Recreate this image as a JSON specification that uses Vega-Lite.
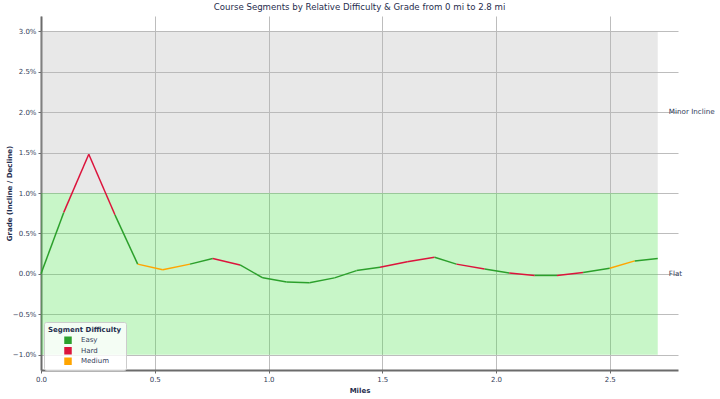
{
  "$schema": "https://vega.github.io/schema/vega-lite/v6.json",
  "width": 637,
  "height": 354,
  "autosize": {"type": "none"},
  "padding": {"left": 41, "top": 16, "right": 42, "bottom": 29},
  "title": {
    "text": "Course Segments by Relative Difficulty & Grade from 0 mi to 2.8 mi",
    "fontSize": 8.6,
    "fontWeight": "normal",
    "font": "DejaVu Sans",
    "color": "#1f2d4d",
    "anchor": "middle",
    "offset": 4
  },
  "config": {
    "view": {"stroke": null},
    "font": "DejaVu Sans",
    "axis": {
      "labelFont": "DejaVu Sans",
      "labelFontSize": 7,
      "labelColor": "#34405a",
      "titleFont": "DejaVu Sans",
      "titleFontSize": 7,
      "titleFontWeight": "bold",
      "titleColor": "#1f2d4d",
      "gridColor": "#bdbdbd",
      "gridWidth": 1,
      "gridOpacity": 1,
      "domainColor": "#6b6b6b",
      "domainWidth": 2,
      "tickColor": "#6b6b6b",
      "tickSize": 3,
      "labelPadding": 2,
      "labelFlush": false
    }
  },
  "datasets": {
    "zones": [
      {"zone": "Minor Incline", "x0": 0, "x1": 2.711, "lo": 1.0, "hi": 3.0, "mid": 2.0},
      {"zone": "Flat", "x0": 0, "x1": 2.711, "lo": -1.0, "hi": 1.0, "mid": 0.0}
    ],
    "segments": [
      {"m0": 0.0, "m1": 0.1, "g0": 0.0, "g1": 0.76, "difficulty": "Easy"},
      {"m0": 0.1, "m1": 0.21, "g0": 0.76, "g1": 1.48, "difficulty": "Hard"},
      {"m0": 0.21, "m1": 0.325, "g0": 1.48, "g1": 0.73, "difficulty": "Hard"},
      {"m0": 0.325, "m1": 0.425, "g0": 0.73, "g1": 0.12, "difficulty": "Easy"},
      {"m0": 0.425, "m1": 0.535, "g0": 0.12, "g1": 0.05, "difficulty": "Medium"},
      {"m0": 0.535, "m1": 0.655, "g0": 0.05, "g1": 0.12, "difficulty": "Medium"},
      {"m0": 0.655, "m1": 0.755, "g0": 0.12, "g1": 0.19, "difficulty": "Easy"},
      {"m0": 0.755, "m1": 0.875, "g0": 0.19, "g1": 0.11, "difficulty": "Hard"},
      {"m0": 0.875, "m1": 0.975, "g0": 0.11, "g1": -0.05, "difficulty": "Easy"},
      {"m0": 0.975, "m1": 1.08, "g0": -0.05, "g1": -0.1, "difficulty": "Easy"},
      {"m0": 1.08, "m1": 1.18, "g0": -0.1, "g1": -0.11, "difficulty": "Easy"},
      {"m0": 1.18, "m1": 1.29, "g0": -0.11, "g1": -0.05, "difficulty": "Easy"},
      {"m0": 1.29, "m1": 1.387, "g0": -0.05, "g1": 0.04, "difficulty": "Easy"},
      {"m0": 1.387, "m1": 1.49, "g0": 0.04, "g1": 0.08, "difficulty": "Easy"},
      {"m0": 1.49, "m1": 1.61, "g0": 0.08, "g1": 0.15, "difficulty": "Hard"},
      {"m0": 1.61, "m1": 1.73, "g0": 0.15, "g1": 0.205, "difficulty": "Hard"},
      {"m0": 1.73, "m1": 1.826, "g0": 0.205, "g1": 0.12, "difficulty": "Easy"},
      {"m0": 1.826, "m1": 1.95, "g0": 0.12, "g1": 0.06, "difficulty": "Hard"},
      {"m0": 1.95, "m1": 2.058, "g0": 0.06, "g1": 0.01, "difficulty": "Easy"},
      {"m0": 2.058, "m1": 2.17, "g0": 0.01, "g1": -0.02, "difficulty": "Hard"},
      {"m0": 2.17, "m1": 2.268, "g0": -0.02, "g1": -0.02, "difficulty": "Easy"},
      {"m0": 2.268, "m1": 2.383, "g0": -0.02, "g1": 0.015, "difficulty": "Hard"},
      {"m0": 2.383, "m1": 2.5, "g0": 0.015, "g1": 0.07, "difficulty": "Easy"},
      {"m0": 2.5, "m1": 2.61, "g0": 0.07, "g1": 0.16, "difficulty": "Medium"},
      {"m0": 2.61, "m1": 2.711, "g0": 0.16, "g1": 0.19, "difficulty": "Easy"}
    ]
  },
  "layer": [
    {
      "data": {"name": "zones"},
      "mark": {"type": "rect", "opacity": 0.3},
      "encoding": {
        "x": {
          "field": "x0",
          "type": "quantitative",
          "scale": {"domain": [0, 2.8], "nice": false, "zero": false},
          "axis": {
            "values": [0, 0.5, 1.0, 1.5, 2.0, 2.5],
            "format": ".1f",
            "title": "Miles",
            "grid": true,
            "titlePadding": 4
          }
        },
        "x2": {"field": "x1"},
        "y": {
          "field": "lo",
          "type": "quantitative",
          "scale": {"domain": [-1.19, 3.19], "nice": false, "zero": false},
          "axis": {
            "values": [-1.0, -0.5, 0.0, 0.5, 1.0, 1.5, 2.0, 2.5, 3.0],
            "labelExpr": "format(datum.value, '.1f') + '%'",
            "title": "Grade (Incline / Decline)",
            "grid": true,
            "titleX": -29,
            "titleBaseline": "bottom"
          }
        },
        "y2": {"field": "hi"},
        "color": {
          "field": "zone",
          "type": "nominal",
          "scale": {"domain": ["Minor Incline", "Flat"], "range": ["#b2b2b2", "#48e148"]},
          "legend": null
        }
      }
    },
    {
      "data": {"name": "zones"},
      "mark": {"type": "text", "align": "left", "baseline": "middle", "dx": 11, "fontSize": 7.2, "color": "#34405a", "font": "DejaVu Sans"},
      "encoding": {
        "x": {"field": "x1", "type": "quantitative"},
        "y": {"field": "mid", "type": "quantitative"},
        "text": {"field": "zone"}
      }
    },
    {
      "data": {"name": "segments"},
      "mark": {"type": "rule", "strokeWidth": 1.5},
      "encoding": {
        "x": {"field": "m0", "type": "quantitative"},
        "x2": {"field": "m1"},
        "y": {"field": "g0", "type": "quantitative"},
        "y2": {"field": "g1"},
        "color": {
          "field": "difficulty",
          "type": "nominal",
          "scale": {"domain": ["Easy", "Hard", "Medium"], "range": ["#2ca02c", "#dc143c", "#ffa500"]},
          "legend": {
            "title": "Segment Difficulty",
            "orient": "none",
            "legendX": 3,
            "legendY": 306,
            "padding": 4,
            "fillColor": "rgba(255,255,255,0.8)",
            "strokeColor": "#cccccc",
            "cornerRadius": 2,
            "titleFont": "DejaVu Sans",
            "titleFontSize": 7,
            "titleFontWeight": "bold",
            "titleColor": "#1f2d4d",
            "titlePadding": 3,
            "labelFont": "DejaVu Sans",
            "labelFontSize": 7,
            "labelColor": "#34405a",
            "labelOffset": 9,
            "symbolType": "square",
            "symbolSize": 9,
            "symbolStrokeWidth": 4.5,
            "symbolOffset": 16,
            "clipHeight": 8.5,
            "rowPadding": 1.5
          }
        }
      }
    }
  ],
  "resolve": {"scale": {"color": "independent"}}
}
